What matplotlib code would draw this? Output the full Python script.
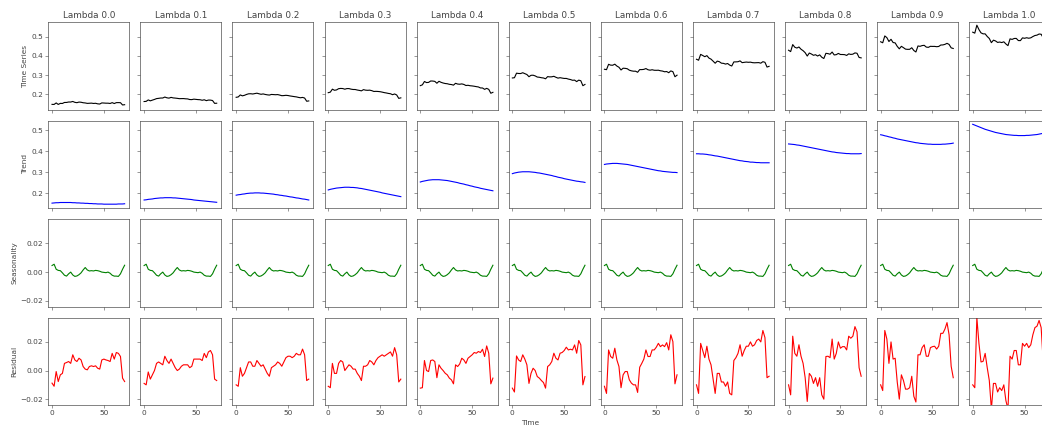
import numpy as np
import matplotlib
matplotlib.use("Agg")
import matplotlib.pyplot as plt

lambdas = [0.0, 0.1, 0.2, 0.3, 0.4, 0.5, 0.6, 0.7, 0.8, 0.9, 1.0]
time = np.arange(0, 72, 2)

# seasonal component (same for every lambda)
seasonal = [0.0046, 0.0055, 0.0020, 0.0012, 0.0010, -0.0005, -0.0022, -0.0028, -0.0012, 0.0000,
            -0.0020, -0.0030, -0.0027, -0.0018, -0.0005, 0.0015, 0.0032, 0.0015, 0.0008, 0.0010,
            0.0008, 0.0012, 0.0010, 0.0006, 0.0000, -0.0002, -0.0004, 0.0000, -0.0008, -0.0022,
            -0.0028, -0.0028, -0.0030, -0.0012, 0.0020, 0.0048]

# trend components
trend_l00 = [0.152, 0.153, 0.154, 0.154, 0.155, 0.155, 0.155, 0.155, 0.155, 0.155,
             0.154, 0.154, 0.153, 0.153, 0.152, 0.152, 0.151, 0.151, 0.150, 0.150,
             0.149, 0.149, 0.148, 0.148, 0.148, 0.147, 0.147, 0.147, 0.147, 0.147,
             0.147, 0.147, 0.148, 0.148, 0.148, 0.149]
trend_l01 = [0.167, 0.168, 0.170, 0.171, 0.172, 0.174, 0.175, 0.176, 0.177, 0.177,
             0.178, 0.178, 0.178, 0.178, 0.177, 0.177, 0.176, 0.175, 0.174, 0.173,
             0.172, 0.171, 0.170, 0.169, 0.167, 0.166, 0.165, 0.164, 0.163, 0.162,
             0.161, 0.160, 0.159, 0.158, 0.157, 0.156]
trend_l02 = [0.190, 0.192, 0.193, 0.195, 0.196, 0.198, 0.199, 0.200, 0.200, 0.201,
             0.201, 0.201, 0.200, 0.200, 0.199, 0.198, 0.197, 0.196, 0.195, 0.193,
             0.192, 0.190, 0.189, 0.187, 0.186, 0.184, 0.182, 0.181, 0.179, 0.177,
             0.176, 0.174, 0.172, 0.171, 0.169, 0.167]
trend_l03 = [0.215, 0.218, 0.220, 0.222, 0.224, 0.225, 0.226, 0.227, 0.228, 0.228,
             0.228, 0.227, 0.227, 0.226, 0.225, 0.223, 0.222, 0.220, 0.218, 0.216,
             0.214, 0.212, 0.210, 0.208, 0.206, 0.204, 0.201, 0.199, 0.197, 0.195,
             0.193, 0.191, 0.189, 0.187, 0.185, 0.183]
trend_l04 = [0.253, 0.256, 0.258, 0.260, 0.262, 0.263, 0.264, 0.264, 0.264, 0.264,
             0.263, 0.262, 0.261, 0.260, 0.258, 0.256, 0.254, 0.252, 0.250, 0.247,
             0.245, 0.243, 0.240, 0.238, 0.235, 0.233, 0.230, 0.228, 0.226, 0.223,
             0.221, 0.219, 0.217, 0.215, 0.213, 0.211]
trend_l05 = [0.293, 0.296, 0.298, 0.300, 0.301, 0.302, 0.302, 0.302, 0.302, 0.301,
             0.300, 0.299, 0.297, 0.296, 0.294, 0.292, 0.290, 0.288, 0.286, 0.284,
             0.281, 0.279, 0.276, 0.274, 0.272, 0.269, 0.267, 0.265, 0.263, 0.261,
             0.259, 0.257, 0.256, 0.254, 0.253, 0.251]
trend_l06 = [0.337, 0.339, 0.340, 0.341, 0.342, 0.342, 0.342, 0.341, 0.340, 0.339,
             0.338, 0.337, 0.335, 0.333, 0.331, 0.329, 0.327, 0.325, 0.323, 0.321,
             0.319, 0.317, 0.315, 0.313, 0.311, 0.309, 0.307, 0.306, 0.304, 0.303,
             0.302, 0.301, 0.300, 0.299, 0.299, 0.298]
trend_l07 = [0.388, 0.388, 0.387, 0.387, 0.386, 0.385, 0.383, 0.382, 0.380, 0.378,
             0.377, 0.375, 0.373, 0.371, 0.369, 0.367, 0.365, 0.363, 0.361, 0.359,
             0.357, 0.355, 0.354, 0.352, 0.351, 0.350, 0.348, 0.348, 0.347, 0.346,
             0.346, 0.345, 0.345, 0.345, 0.345, 0.345]
trend_l08 = [0.435, 0.434, 0.433, 0.432, 0.430, 0.429, 0.427, 0.425, 0.423, 0.421,
             0.419, 0.417, 0.415, 0.413, 0.411, 0.409, 0.407, 0.405, 0.403, 0.401,
             0.399, 0.397, 0.396, 0.394, 0.393, 0.392, 0.391, 0.390, 0.389, 0.389,
             0.388, 0.388, 0.388, 0.388, 0.388, 0.389]
trend_l09 = [0.479, 0.477, 0.474, 0.472, 0.469, 0.467, 0.464, 0.462, 0.459, 0.457,
             0.455, 0.453, 0.451, 0.449, 0.447, 0.445, 0.443, 0.441, 0.440, 0.438,
             0.437, 0.436, 0.435, 0.434, 0.434, 0.433, 0.433, 0.433, 0.433, 0.433,
             0.434, 0.434, 0.435, 0.436, 0.437, 0.439]
trend_l10 = [0.529, 0.525, 0.521, 0.517, 0.513, 0.509, 0.505, 0.502, 0.499, 0.496,
             0.493, 0.490, 0.488, 0.486, 0.484, 0.482, 0.480, 0.479, 0.478, 0.477,
             0.476, 0.476, 0.475, 0.475, 0.475, 0.475, 0.476, 0.476, 0.477, 0.478,
             0.479, 0.480, 0.482, 0.484, 0.486, 0.488]

# residual components
resid_l00 = [-0.0088, -0.0110, -0.0007, -0.0077, -0.0030, -0.0020, 0.0050, 0.0056, 0.0063, 0.0050,
             0.0110, 0.0074, 0.0063, 0.0086, 0.0074, 0.0028, 0.0010, 0.0005, 0.0028, 0.0033,
             0.0028, 0.0033, 0.0016, 0.0010, 0.0074, 0.0080, 0.0074, 0.0070, 0.0063, 0.0120,
             0.0080, 0.0126, 0.0120, 0.0098, -0.0053, -0.0077]
resid_l01 = [-0.0090, -0.0100, -0.0010, -0.0060, -0.0030, 0.0000, 0.0050, 0.0060, 0.0050, 0.0040,
             0.0100, 0.0070, 0.0050, 0.0080, 0.0050, 0.0020, 0.0000, 0.0010, 0.0030, 0.0040,
             0.0040, 0.0040, 0.0020, 0.0030, 0.0080, 0.0080, 0.0080, 0.0080, 0.0070, 0.0120,
             0.0090, 0.0130, 0.0140, 0.0110, -0.0060, -0.0070]
resid_l02 = [-0.0100, -0.0110, 0.0020, -0.0040, -0.0020, 0.0020, 0.0060, 0.0060, 0.0030, 0.0030,
             0.0070, 0.0050, 0.0030, 0.0040, 0.0010, -0.0020, -0.0040, 0.0020, 0.0030, 0.0040,
             0.0060, 0.0050, 0.0030, 0.0060, 0.0090, 0.0100, 0.0100, 0.0090, 0.0100, 0.0120,
             0.0110, 0.0110, 0.0150, 0.0110, -0.0070, -0.0060]
resid_l03 = [-0.0110, -0.0120, 0.0050, -0.0020, -0.0020, 0.0050, 0.0070, 0.0060, 0.0000, 0.0020,
             0.0040, 0.0030, 0.0010, 0.0010, -0.0020, -0.0040, -0.0070, 0.0030, 0.0030, 0.0040,
             0.0070, 0.0060, 0.0040, 0.0070, 0.0090, 0.0100, 0.0110, 0.0100, 0.0110, 0.0120,
             0.0130, 0.0100, 0.0160, 0.0110, -0.0080, -0.0060]
resid_l04 = [-0.0123, -0.0120, 0.0070, 0.0000, -0.0007, 0.0070, 0.0074, 0.0063, -0.0050, 0.0040,
             0.0016, 0.0000, -0.0019, -0.0030, -0.0053, -0.0065, -0.0093, 0.0040, 0.0028, 0.0046,
             0.0086, 0.0074, 0.0050, 0.0086, 0.0098, 0.0110, 0.0126, 0.0121, 0.0133, 0.0126,
             0.0149, 0.0098, 0.0172, 0.0121, -0.0093, -0.0053]
resid_l05 = [-0.0123, -0.0150, 0.0102, 0.0074, 0.0063, 0.0110, 0.0080, 0.0040, -0.0090, -0.0019,
             0.0016, 0.0000, -0.0042, -0.0053, -0.0070, -0.0084, -0.0123, 0.0028, 0.0040, 0.0063,
             0.0121, 0.0086, 0.0074, 0.0121, 0.0126, 0.0140, 0.0163, 0.0144, 0.0149, 0.0144,
             0.0179, 0.0121, 0.0210, 0.0179, -0.0100, -0.0042]
resid_l06 = [-0.0110, -0.0160, 0.0144, 0.0098, 0.0086, 0.0156, 0.0074, 0.0028, -0.0120, -0.0030,
             -0.0007, -0.0007, -0.0065, -0.0088, -0.0100, -0.0100, -0.0153, 0.0023, 0.0050, 0.0080,
             0.0144, 0.0098, 0.0098, 0.0144, 0.0144, 0.0163, 0.0190, 0.0167, 0.0179, 0.0167,
             0.0195, 0.0144, 0.0250, 0.0202, -0.0093, -0.0030]
resid_l07 = [-0.0100, -0.0160, 0.0190, 0.0140, 0.0090, 0.0170, 0.0080, 0.0040, -0.0060, -0.0160,
             -0.0020, -0.0020, -0.0080, -0.0080, -0.0110, -0.0080, -0.0160, -0.0170, 0.0070, 0.0090,
             0.0120, 0.0180, 0.0100, 0.0140, 0.0170, 0.0170, 0.0200, 0.0170, 0.0180, 0.0210,
             0.0220, 0.0200, 0.0280, 0.0230, -0.0050, -0.0040]
resid_l08 = [-0.0100, -0.0170, 0.0240, 0.0120, 0.0100, 0.0180, 0.0100, 0.0050, -0.0050, -0.0216,
             -0.0020, -0.0040, -0.0090, -0.0050, -0.0110, -0.0050, -0.0170, -0.0200, 0.0098, 0.0100,
             0.0090, 0.0220, 0.0080, 0.0120, 0.0200, 0.0156, 0.0167, 0.0167, 0.0144, 0.0240,
             0.0226, 0.0240, 0.0307, 0.0270, 0.0020, -0.0040]
resid_l09 = [-0.0100, -0.0140, 0.0280, 0.0220, 0.0050, 0.0200, 0.0080, 0.0086, -0.0080, -0.0200,
             -0.0030, -0.0070, -0.0130, -0.0130, -0.0120, -0.0040, -0.0180, -0.0220, 0.0110, 0.0110,
             0.0160, 0.0180, 0.0100, 0.0100, 0.0160, 0.0167, 0.0170, 0.0150, 0.0170, 0.0260,
             0.0260, 0.0290, 0.0335, 0.0250, 0.0030, -0.0050]
resid_l10 = [-0.0100, -0.0120, 0.0370, 0.0190, 0.0060, 0.0064, 0.0120, 0.0020, -0.0070, -0.0270,
             -0.0090, -0.0090, -0.0150, -0.0120, -0.0140, -0.0100, -0.0210, -0.0270, 0.0100, 0.0080,
             0.0140, 0.0140, 0.0040, 0.0040, 0.0190, 0.0170, 0.0190, 0.0160, 0.0180, 0.0250,
             0.0300, 0.0310, 0.0350, 0.0300, 0.0060, -0.0040]

trends = [trend_l00, trend_l01, trend_l02, trend_l03, trend_l04, trend_l05,
          trend_l06, trend_l07, trend_l08, trend_l09, trend_l10]
resids = [resid_l00, resid_l01, resid_l02, resid_l03, resid_l04, resid_l05,
          resid_l06, resid_l07, resid_l08, resid_l09, resid_l10]

# softer greys, like the downscaled original
plt.rcParams['text.color'] = '#444444'
plt.rcParams['axes.labelcolor'] = '#444444'
plt.rcParams['xtick.color'] = '#555555'
plt.rcParams['ytick.color'] = '#555555'
plt.rcParams['xtick.labelcolor'] = '#444444'
plt.rcParams['ytick.labelcolor'] = '#444444'
plt.rcParams['axes.edgecolor'] = '#333333'

dpi = 53.5
fig, axes = plt.subplots(4, 11, figsize=(1042 / dpi, 428 / dpi), dpi=dpi,
                         sharex=True, sharey='row')
fig.subplots_adjust(left=0.0464, right=1.0077, top=0.9479, bottom=0.0537,
                    wspace=0.1367, hspace=0.126)

for i, lam in enumerate(lambdas):
    trend = np.array(trends[i])
    resid = np.array(resids[i])
    season = np.array(seasonal)
    series = trend + season + resid  # observed = trend + seasonal + residual

    axes[0, i].plot(time, series, color='black')
    axes[1, i].plot(time, trend, color='blue')
    axes[2, i].plot(time, season, color='green')
    axes[3, i].plot(time, resid, color='red')
    axes[0, i].set_title(f"Lambda {lam}")

axes[0, 0].set_xlim(-3.55, 74.55)
axes[0, 0].set_xticks([0, 50])
axes[0, 0].set_ylim(0.120, 0.575)
axes[0, 0].set_yticks([0.2, 0.3, 0.4, 0.5])
axes[1, 0].set_ylim(0.128, 0.546)
axes[1, 0].set_yticks([0.2, 0.3, 0.4, 0.5])
for r in (2, 3):
    axes[r, 0].set_ylim(-0.0241, 0.0370)
    axes[r, 0].set_yticks([-0.02, 0.0, 0.02])

axes[0, 0].set_ylabel("Time Series")
axes[1, 0].set_ylabel("Trend")
axes[2, 0].set_ylabel("Seasonality")
axes[3, 0].set_ylabel("Residual")
fig.text(0.5086, 0.0117, "Time", ha='center', va='center', fontsize=10)

fig.savefig("out.png", dpi=dpi)
